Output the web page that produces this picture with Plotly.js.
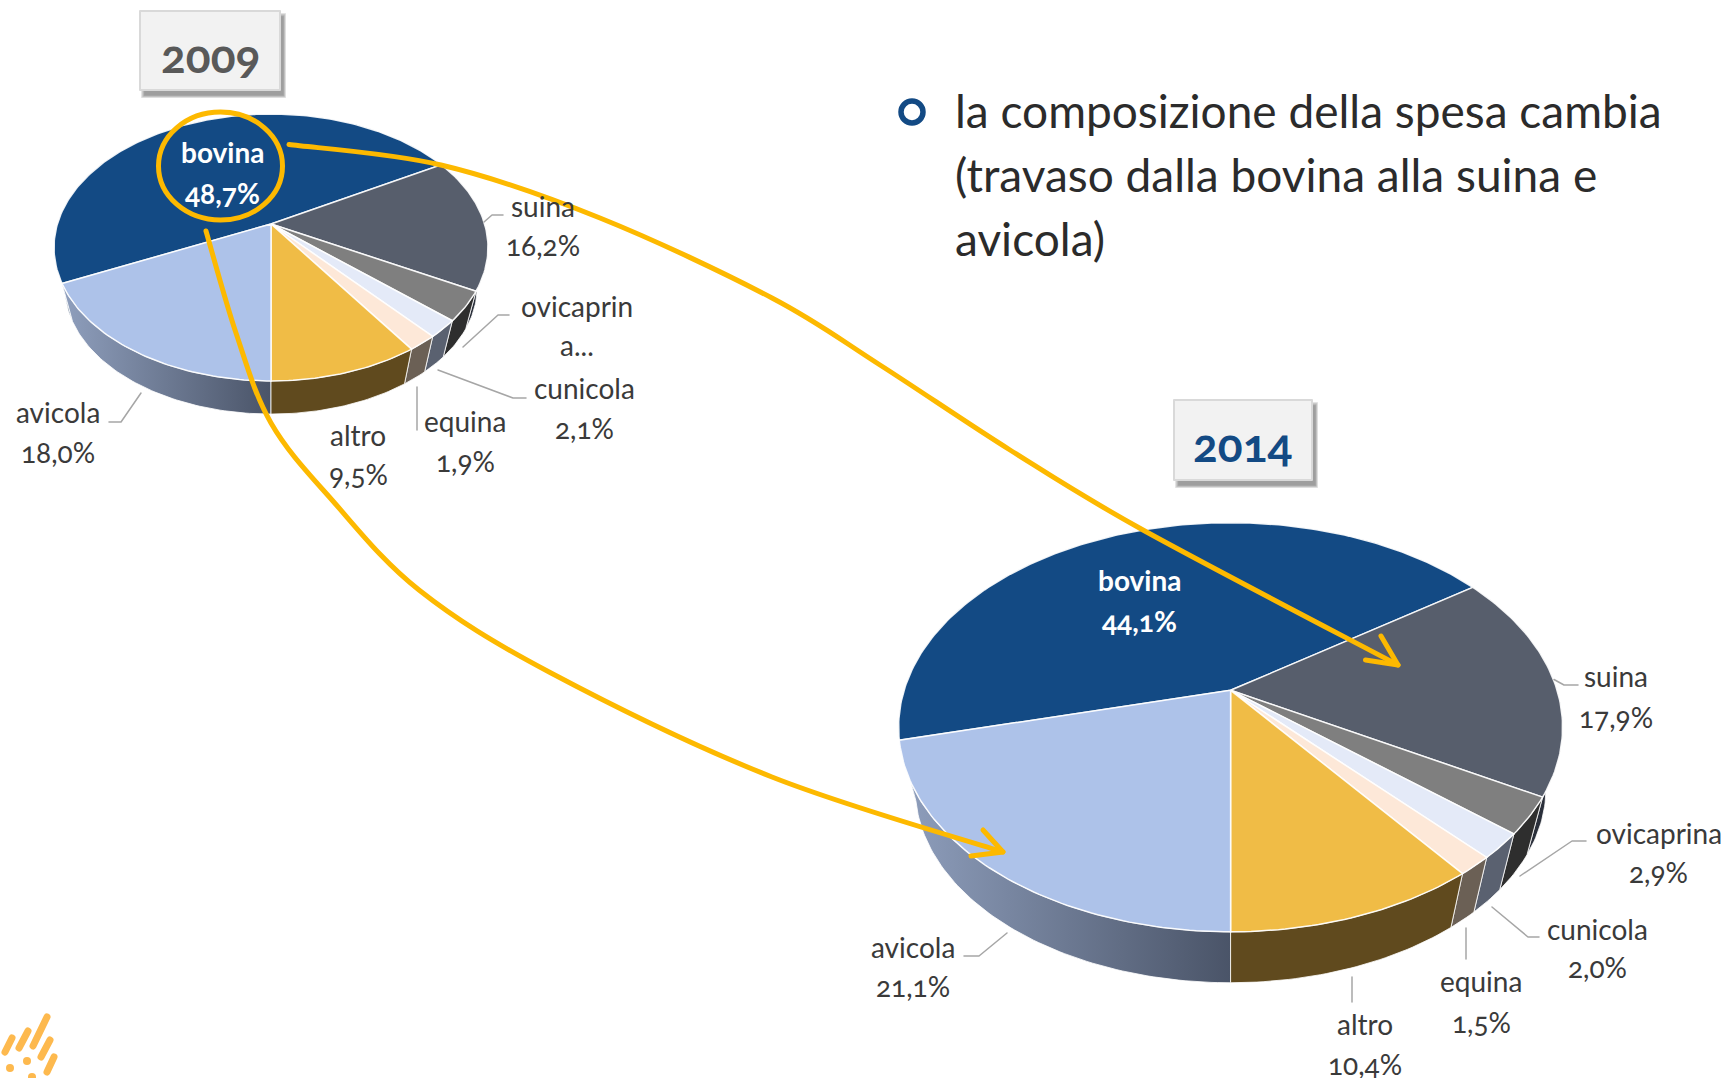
<!DOCTYPE html>
<html><head><meta charset="utf-8">
<script src="https://cdn.plot.ly/plotly-3.0.1.min.js"></script>
<style>
html,body{margin:0;padding:0;background:#fff}
#c{width:1729px;height:1078px}
svg text{font-variant-numeric:oldstyle-nums;font-feature-settings:"onum" 1}
.shapelayer path{stroke-linecap:round;stroke-linejoin:round}
</style></head><body><div id="c"></div>
<script>
const categories=["bovina","suina","ovicaprina","cunicola","equina","altro","avicola"];
const values2009=[48.7,16.2,3.6,2.1,1.9,9.5,18.0];
const values2014=[44.1,17.9,2.9,2.0,1.5,10.4,21.1];
const topColors=["#134a84","#575e6c","#7f7f7f","#e4eaf8","#fde8d8","#f0bc46","#adc2e9"];
const wallColors=["#0c2f56","#2a2f3a","#2e2e2e","#5a6170","#6b6055","#604a1e",null];
const wallGradient=[[0,"#8f9fbd"],[1,"#4a5468"]];
const pie2009={cx:271,cy:224,rx:213.6,ry:129.3,k:0.176,depth:41,s:0.95};
const pie2014={cx:1230.6,cy:690.3,rx:326.5,ry:197.9,k:0.1807,depth:63,s:0.95};
const labels2009=[[222.7,152,193],[542.5,206,245],[577,305.5,345],[584.5,388,428],[465,421,461],[358,434.5,474],[58,412,452]];
const labels2014=[[1139,580,621],[1615.5,676,717],[1658.5,832.5,872],[1597,928.5,967],[1481,981,1022],[1365,1024,1064],[913,947,986]];
const leaders=[
 [[484,222],[492,215],[503,215]],[[463,347],[498,315],[509,315]],[[438,370],[513,398],[526,398]],[[417,387],[417,430]],[[141,393],[121,422],[109,422]],
 [[1554,679.5],[1564,685],[1578,685]],[[1520,876],[1572,841],[1586,841]],[[1492,907],[1528,937],[1539,937]],[[1466,928],[1466,959]],[[1352,977],[1352,1002]],[[1007,933],[979,956],[964,956]]
];
const arrow1=[[289,144.5],[441,165],[600,218],[772,298],[880,365],[1010,450],[1143,530],[1398,665]];
const arrow2=[[206,231],[236,333],[271,423],[332,500],[419,590],[551,673],[772,777],[1003,852]];
const head1=[[1381,636],[1398,665],[1365.5,660]];
const head2=[[983,830],[1003,852],[971,856]];
const bulletLines=["la composizione della spesa cambia","(travaso dalla bovina alla suina e","avicola)"];
const FONT="Lato, 'Open Sans', sans-serif";

function proj(p,deg,d,s){const t=deg*Math.PI/180,u=Math.sin(t),v=-Math.cos(t),w=1-p.k*v;
 return [p.cx+s*p.rx*u/w, p.cy+s*p.ry*v/w+d];}
function arc(a,b,p,d,s){const n=Math.max(2,Math.ceil(Math.abs(b-a)));const o=[];for(let i=0;i<=n;i++)o.push(proj(p,a+(b-a)*i/n,d,s));return o;}
function pieTraces(vals,p,year){
 const tot=vals.reduce((a,b)=>a+b,0);const start=180+vals[6]/tot*360;
 const angs=[];let acc=start;vals.forEach(v=>{const e=acc+v/tot*360;angs.push([acc,e]);acc=e;});
 const walls=[],tops=[];
 [0,1,2,3,4,6,5].forEach(i=>{const [a,b]=angs[i];
  const r=arc(a,b,p,0,1),q=arc(a,b,p,p.depth,p.s).reverse();const pts=r.concat(q);pts.push(r[0]);
  const tr={type:"scatter",mode:"lines",x:pts.map(c=>c[0]),y:pts.map(c=>c[1]),fill:"toself",line:{color:"rgba(255,255,255,0.8)",width:1},hoverinfo:"skip",showlegend:false};
  if(wallColors[i])tr.fillcolor=wallColors[i];else tr.fillgradient={type:"horizontal",colorscale:wallGradient};
  walls.push(tr);});
 vals.forEach((v,i)=>{const [a,b]=angs[i];const r=arc(a,b,p,0,1);const pts=[[p.cx,p.cy]].concat(r,[[p.cx,p.cy]]);
  tops.push({type:"scatter",mode:"lines",name:categories[i]+" "+year,x:pts.map(c=>c[0]),y:pts.map(c=>c[1]),fill:"toself",fillcolor:topColors[i],line:{color:"rgba(255,255,255,0.9)",width:1.5},text:categories[i]+" "+v+"%",hoverinfo:"text",showlegend:false});});
 return walls.concat(tops);
}
const data=pieTraces(values2009,pie2009,2009).concat(pieTraces(values2014,pie2014,2014));

function fmt(v){return v.toFixed(1).replace(".",",")+"%";}
function txt(x,y,t,size,color,extra){return Object.assign({x,y,text:t,xref:"x",yref:"y",showarrow:false,xanchor:"center",yanchor:"middle",font:{family:FONT,size,color}},extra||{});}
const annos=[];
function addLabels(vals,pos,year){categories.forEach((c,i)=>{
 const col=i===0?"#ffffff":"#3a3a3a";const [x,y1,y2]=pos[i];
 const trunc=(year===2009&&i===2);
 annos.push(txt(x,y1,trunc?"ovicaprin":(i===0?"<b>"+c+"</b>":c),28,col));
 annos.push(txt(x,y2,trunc?"a...":(i===0?"<b>"+fmt(vals[i])+"</b>":fmt(vals[i])),28,col));
});}
addLabels(values2009,labels2009,2009);addLabels(values2014,labels2014,2014);
annos.push(txt(210,55,"<b>2009</b>",46,"#595959"));
annos.push(txt(1243,444,"<b>2014</b>",46,"#134a84"));
[110,174,238].forEach((y,i)=>annos.push(txt(953,y,bulletLines[i],46,"#2b2b2b",{xanchor:"left"})));

function crPath(P){let d="M"+P[0][0]+","+P[0][1];for(let i=0;i<P.length-1;i++){const p0=P[Math.max(0,i-1)],p1=P[i],p2=P[i+1],p3=P[Math.min(P.length-1,i+2)];
 d+=" C"+(p1[0]+(p2[0]-p0[0])/6)+","+(p1[1]+(p2[1]-p0[1])/6)+" "+(p2[0]-(p3[0]-p1[0])/6)+","+(p2[1]-(p3[1]-p1[1])/6)+" "+p2[0]+","+p2[1];}return d;}
function poly(P){return "M"+P.map(c=>c[0]+","+c[1]).join(" L");}
function pathS(d,color,w){return {type:"path",xref:"x",yref:"y",path:d,line:{color,width:w},layer:"above"};}
const shapes=[];
function box(x0,y0,x1,y1){for(let i=0;i<5;i++)shapes.push({type:"rect",xref:"x",yref:"y",x0:x0+1+i*.8,y0:y0+2+i*.8,x1:x1+6-i*.6,y1:y1+8-i*.6,fillcolor:"rgba(0,0,0,0.09)",line:{width:0},layer:"below"});
 shapes.push({type:"rect",xref:"x",yref:"y",x0,y0,x1,y1,fillcolor:"#f2f2f2",line:{color:"#d9d9d9",width:2},layer:"below"});}
box(140,11,280,90);box(1174,400,1312,480);
leaders.forEach(l=>shapes.push(pathS(poly(l),"#a6a6a6",1.5)));
shapes.push({type:"circle",xref:"x",yref:"y",x0:158.5,x1:282.5,y0:112,y1:220,line:{color:"#fdb900",width:5},layer:"above"});
shapes.push(pathS(crPath(arrow1),"#fdb900",5));shapes.push(pathS(crPath(arrow2),"#fdb900",5));
shapes.push(pathS(poly(head1),"#fdb900",5));shapes.push(pathS(poly(head2),"#fdb900",5));
shapes.push({type:"circle",xref:"x",yref:"y",x0:901,x1:923,y0:101,y1:123,line:{color:"#134a84",width:5.5},layer:"above"});
[[[5,1052],[12,1038]],[[19,1048],[28,1031]],[[33,1046],[47,1017]],[[41,1057],[50,1040]],[[47,1072],[54,1057]]].forEach(l=>shapes.push(pathS(poly(l),"#fdb94e",7)));
[[10,1068],[27,1061],[32,1077]].forEach(c=>shapes.push({type:"circle",xref:"x",yref:"y",x0:c[0]-4,x1:c[0]+4,y0:c[1]-4,y1:c[1]+4,fillcolor:"#fdb94e",line:{width:0},layer:"above"}));

Plotly.newPlot("c",data,{width:1729,height:1078,margin:{l:0,r:0,t:0,b:0,pad:0},paper_bgcolor:"#fff",plot_bgcolor:"#fff",showlegend:false,
 xaxis:{range:[0,1729],visible:false,fixedrange:true},yaxis:{range:[1078,0],visible:false,fixedrange:true},annotations:annos,shapes:shapes},{displayModeBar:false});
</script></body></html>
